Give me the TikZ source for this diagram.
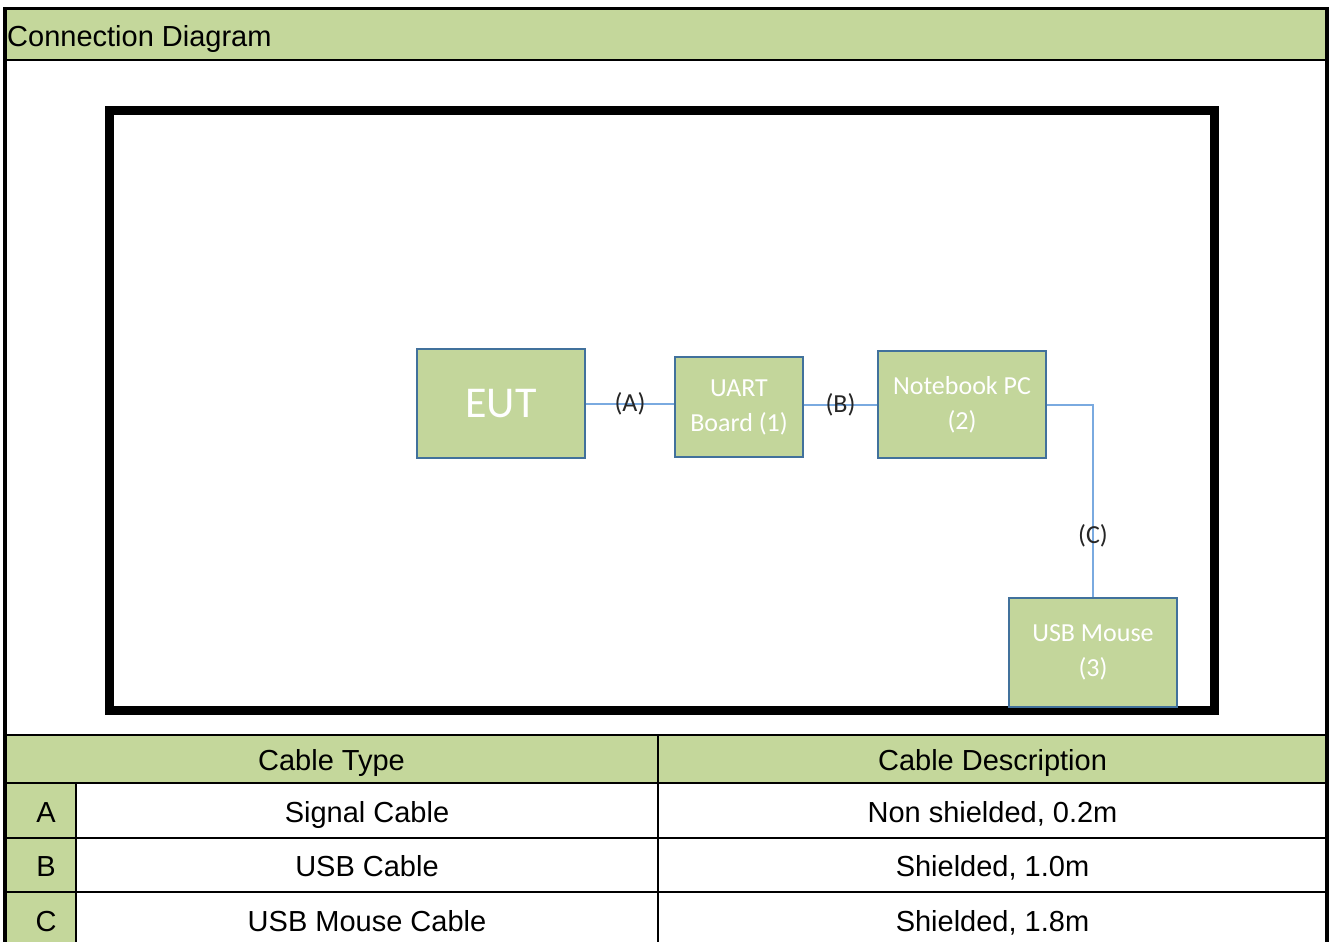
\documentclass[tikz,border=0pt]{standalone}
\usepackage{fontspec}
\setmainfont{Liberation Sans}
\newfontfamily\carl{Carlito}
\definecolor{hdrgreen}{HTML}{C4D79B}
\definecolor{boxgreen}{HTML}{C3D69B}
\definecolor{boxedge}{HTML}{41719C}
\definecolor{wire}{HTML}{7AAAE0}
\begin{document}
\begin{tikzpicture}[x=1pt,y=-1pt,
  devbox/.style={draw=boxedge,line width=1.3pt,fill=boxgreen,rectangle,inner sep=0pt,
    text=white,align=center,font=\carl\fontsize{26}{35}\selectfont},
  conn/.style={draw=wire,line width=2pt},
  lbl/.style={text=black!85,font=\carl\fontsize{26}{30}\selectfont,inner sep=0pt},
  cell/.style={font=\fontsize{29}{32}\selectfont,text=black,inner sep=0pt,text height=21pt,text depth=0pt},
  grid/.style={line width=2.2pt,black}]
\useasboundingbox (0,0) rectangle (1334,942);
% background fills
\fill[white] (0,0) rectangle (1334,942);
\fill[hdrgreen] (5,10) rectangle (1327,60);
\fill[hdrgreen] (5,735) rectangle (1327,783);
\fill[hdrgreen] (5,783) rectangle (76,942);
% frame
\draw[line width=3pt] (3,9) -- (1329,9);
\draw[line width=4pt] (5,8) -- (5,942);
\draw[line width=4pt] (1327,8) -- (1327,942);
\draw[grid] (5,60) -- (1327,60);
% table grid
\foreach \yy in {735,783,838,892} \draw[grid] (5,\yy) -- (1327,\yy);
\draw[grid] (658,735) -- (658,942);
\draw[grid] (76,783) -- (76,942);
% header title
\node[cell,anchor=west] (title) at (7,36) {Connection Diagram};
% inner black frame
\draw[line width=9pt,black] (109.5,110.5) rectangle (1214.5,710.5);
% devices
\node[devbox,minimum width=168pt,minimum height=109pt,font=\carl\fontsize{44}{50}\selectfont] (eut) at (501,403.5) {EUT};
\node[devbox,minimum width=128pt,minimum height=100pt] (uart) at (739,407) {UART\\Board (1)};
\node[devbox,minimum width=168pt,minimum height=107pt] (nb) at (962,404.5) {Notebook PC\\(2)};
\node[devbox,minimum width=168pt,minimum height=109pt] (mouse) at (1093,652.5) {USB Mouse\\(3)};
% connectors
\coordinate (aend) at (eut.east -| uart.west);
\draw[conn] (eut.east) -- (aend) node[lbl,midway] (la) {(A)};
\coordinate (bend) at (uart.east |- nb.west);
\draw[conn] (bend) -- (nb.west) node[lbl,midway] (lb) {(B)};
\draw[conn] (nb.east) -| (mouse.north) node[lbl,pos=0.84] (lc) {(C)};
% table text
\node[cell] (th1) at (331.5,760) {Cable Type};
\node[cell] (th2) at (992.5,760) {Cable Description};
\node[cell] (ra) at (46,812) {A};
\node[cell] (rb) at (46,866) {B};
\node[cell] (rc) at (46,921) {C};
\node[cell] (ta) at (367,812) {Signal Cable};
\node[cell] (tb) at (367,866) {USB Cable};
\node[cell] (tc) at (367,921) {USB Mouse Cable};
\node[cell] (da) at (992.5,812) {Non shielded, 0.2m};
\node[cell] (db) at (992.5,866) {Shielded, 1.0m};
\node[cell] (dc) at (992.5,921) {Shielded, 1.8m};
\end{tikzpicture}
\end{document}
